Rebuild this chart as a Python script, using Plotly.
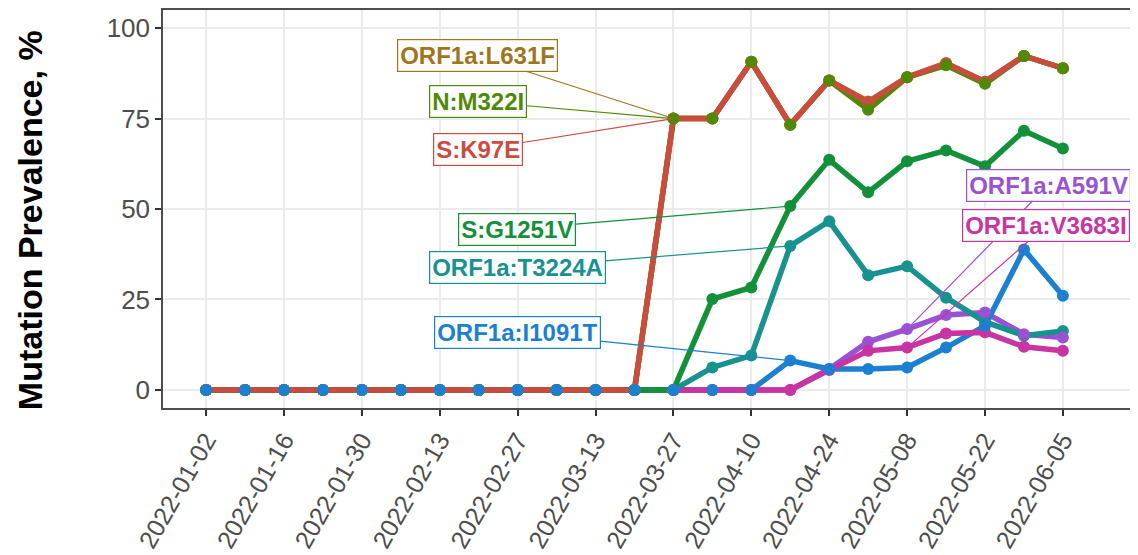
import plotly.graph_objects as go

dates = ["2022-01-02", "2022-01-09", "2022-01-16", "2022-01-23", "2022-01-30",
         "2022-02-06", "2022-02-13", "2022-02-20", "2022-02-27", "2022-03-06",
         "2022-03-13", "2022-03-20", "2022-03-27", "2022-04-03", "2022-04-10",
         "2022-04-17", "2022-04-24", "2022-05-01", "2022-05-08", "2022-05-15",
         "2022-05-22", "2022-05-29", "2022-06-05"]

tick_labels = ["2022-01-02", "2022-01-16", "2022-01-30", "2022-02-13", "2022-02-27",
               "2022-03-13", "2022-03-27", "2022-04-10", "2022-04-24", "2022-05-08",
               "2022-05-22", "2022-06-05"]

Z12 = [0] * 12
orf1a_l631f = Z12 + [75.0, 75.0, 90.7, 73.3, 85.5, 79.7, 86.4, 90.3, 85.2, 92.3, 88.9]
n_m322i     = Z12 + [75.0, 75.0, 90.7, 73.3, 85.5, 77.4, 86.4, 89.7, 84.6, 92.3, 88.9]
s_k97e      = Z12 + [75.0, 75.0, 90.7, 73.3, 85.5, 79.5, 86.4, 90.3, 85.2, 92.3, 88.9]
s_g1251v    = Z12 + [0.0, 25.1, 28.3, 50.8, 63.6, 54.6, 63.2, 66.2, 61.8, 71.6, 66.7]
orf1a_t3224a = Z12 + [0.0, 6.2, 9.5, 39.8, 46.6, 31.7, 34.2, 25.5, 18.8, 15.0, 16.3]
orf1a_i1091t = Z12 + [0.0, 0.0, 0.0, 8.1, 5.8, 5.8, 6.2, 11.7, 17.7, 38.8, 26.0]
orf1a_a591v  = Z12 + [0.0, 0.0, 0.0, 0.0, 5.8, 13.3, 16.8, 20.7, 21.4, 15.4, 14.5]
orf1a_v3683i = Z12 + [0.0, 0.0, 0.0, 0.0, 5.5, 10.8, 11.7, 15.6, 15.9, 11.9, 10.8]

y_title = "Mutation Prevalence, %"

series = {
    "ORF1a:L631F": (orf1a_l631f, "#A0761C"),
    "N:M322I": (n_m322i, "#4F8A06"),
    "S:K97E": (s_k97e, "#CC4B3F"),
    "S:G1251V": (s_g1251v, "#12913A"),
    "ORF1a:T3224A": (orf1a_t3224a, "#18928F"),
    "ORF1a:I1091T": (orf1a_i1091t, "#1C80D2"),
    "ORF1a:A591V": (orf1a_a591v, "#9A52D5"),
    "ORF1a:V3683I": (orf1a_v3683i, "#C934A3"),
}

line_order = ["ORF1a:L631F", "N:M322I", "ORF1a:A591V", "ORF1a:I1091T",
              "ORF1a:V3683I", "ORF1a:T3224A", "S:G1251V", "S:K97E"]
marker_order = ["ORF1a:L631F", "S:K97E", "S:G1251V", "ORF1a:T3224A",
                "ORF1a:A591V", "ORF1a:V3683I", "N:M322I", "ORF1a:I1091T"]

fig = go.Figure()
for name in line_order:
    vals, col = series[name]
    fig.add_trace(go.Scatter(x=dates, y=vals, mode="lines", name=name,
                             line=dict(color=col, width=5.5), showlegend=False,
                             hoverinfo="skip"))
for name in marker_order:
    vals, col = series[name]
    fig.add_trace(go.Scatter(x=dates, y=vals, mode="markers", name=name,
                             marker=dict(color=col, size=12), showlegend=False))

# label placement: (series, index of point, pixel offset x, pixel offset y)
labels = [
    ("ORF1a:L631F", 12, -196, -63),
    ("N:M322I", 12, -195, -17),
    ("S:K97E", 12, -195, 31),
    ("S:G1251V", 15, -273, 23),
    ("ORF1a:T3224A", 15, -273, 22),
    ("ORF1a:I1091T", 15, -273, -28),
    ("ORF1a:A591V", 18, 141, -144),
    ("ORF1a:V3683I", 18, 139, -122),
]
for name, idx, ax, ay in labels:
    vals, col = series[name]
    fig.add_annotation(x=dates[idx], y=vals[idx], xref="x", yref="y",
                       text=f"<b>{name}</b>", showarrow=True, arrowhead=0,
                       arrowwidth=1.2, arrowcolor=col, ax=ax, ay=ay,
                       font=dict(family="Liberation Sans, Arial, sans-serif",
                                 size=24, color=col),
                       bgcolor="white", bordercolor=col, borderwidth=1.2,
                       borderpad=2)

# y-axis title as a rotated annotation (placed slightly below the panel centre)
fig.add_annotation(x=-0.1364, y=0.472, xref="paper", yref="paper",
                   text=f"<b>{y_title}</b>", textangle=-90, showarrow=False,
                   xanchor="center", yanchor="middle",
                   font=dict(family="Liberation Sans, Arial, sans-serif",
                             size=34, color="black"))

# the page adds an 8px body margin, so the figure is 8px smaller than the window
fig.update_layout(
    width=1130, height=547,
    margin=dict(l=155, r=0, t=2, b=147),
    paper_bgcolor="white", plot_bgcolor="white",
    font=dict(family="Liberation Sans, Arial, sans-serif"),
    xaxis=dict(
        type="date", automargin=False,
        range=["2021-12-25 06:00", "2022-06-18 12:00"],
        tickvals=tick_labels, ticktext=tick_labels,
        tickangle=-60,
        tickfont=dict(size=25, color="#4D4D4D"),
        ticks="outside", ticklen=6, tickwidth=1.5, tickcolor="#333333",
        showgrid=True, gridcolor="#EBEBEB", gridwidth=1.5,
        showline=True, linecolor="#4D4D4D", linewidth=1.5, mirror=True,
        zeroline=False,
    ),
    yaxis=dict(
        automargin=False,
        range=[-5, 105],
        tickvals=[0, 25, 50, 75, 100],
        tickfont=dict(size=26, color="#4D4D4D"),
        ticks="outside", ticklen=6, tickwidth=1.5, tickcolor="#333333",
        showgrid=True, gridcolor="#EBEBEB", gridwidth=1.5,
        showline=True, linecolor="#4D4D4D", linewidth=1.5,
        zeroline=False,
    ),
)

fig.write_html("out.html")
